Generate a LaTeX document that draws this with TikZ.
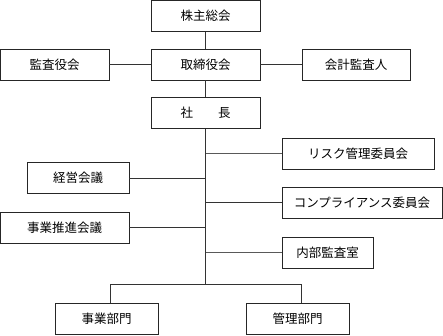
\documentclass[tikz,border=0pt]{standalone}
\usepackage{fontspec}
\newfontfamily\jp{Noto Sans CJK JP}
\usetikzlibrary{positioning}

\begin{document}
\begin{tikzpicture}[
  x=1pt, y=-1pt,
  font=\jp\fontsize{12.5}{14}\selectfont,
  org/.style={draw=black!85, line width=0.9pt, fill=white, inner sep=0pt,
              minimum height=31pt, align=center},
  spine/.style={black!80, line width=0.7pt},
  branch/.style={black!65, line width=0.7pt},
]
\useasboundingbox (0,0) rectangle (443,336);
% top: shareholders, board, auditors
\node[org, minimum width=109pt] (soukai) at (205.5,16)   {株主総会};
\node[org, minimum width=109pt] (tori)   at (205.5,64.5) {取締役会};
\node[org, minimum width=109pt] (kansa)  at (54.5,64.5)  {監査役会};
\node[org, minimum width=108pt] (kaikei) at (356,64.5)   {会計監査人};
\node[org, minimum width=109pt] (pres)   at (205.5,113)  {社　　長};
% committees on the left
\node[org, minimum width=102pt] (keiei)  at (78,178)     {経営会議};
\node[org, minimum width=129pt] (suishin) at (64.5,227.5) {事業推進会議};
% committees on the right
\node[org, minimum width=152pt] (risk)   at (358,153.5)  {リスク管理委員会};
\node[org, minimum width=160pt] (comp)   at (362,202.5)  {コンプライアンス委員会};
\node[org, minimum width=91pt]  (audit)  at (327.5,252.5) {内部監査室};
% divisions
\node[org, minimum width=103pt] (jigyo)  at (106.5,318.5) {事業部門};
\node[org, minimum width=103pt] (kanri)  at (297.5,318.5) {管理部門};
\coordinate (split) at (205.5,284);
% top links
\draw[spine] (soukai) -- (tori);
\draw[spine] (kansa) -- (tori);
\draw[spine] (tori) -- (kaikei);
\draw[spine] (tori) -- (pres);
\draw[spine] (pres) -- (split);
% side links
\draw[spine] (keiei.east) -- (keiei.east -| split);
\draw[spine] (suishin.east) -- (suishin.east -| split);
\draw[branch] (risk.west) -- (risk.west -| split);
\draw[spine] (comp.west) -- (comp.west -| split);
\draw[branch] (audit.west) -- (audit.west -| split);
% divisions
\draw[spine] (split) -| ([xshift=3.5]jigyo.north);
\draw[spine] (split) -| ([xshift=3.5]kanri.north);
\end{tikzpicture}
\end{document}
